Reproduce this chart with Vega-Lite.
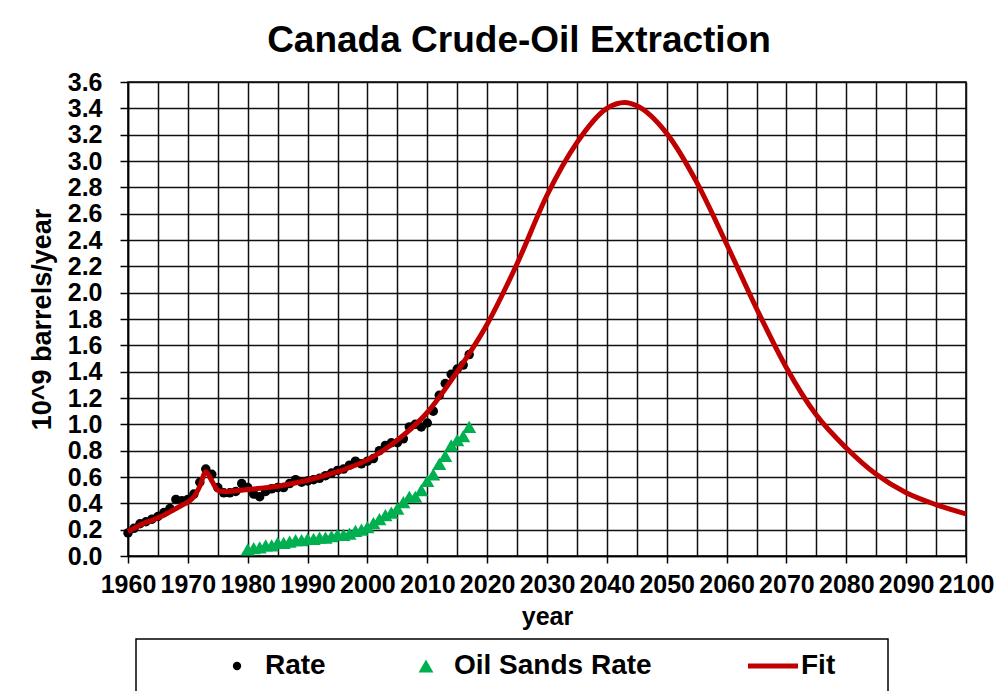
{
  "$schema": "https://vega.github.io/schema/vega-lite/v6.json",
  "width": 838,
  "height": 474,
  "autosize": "none",
  "padding": {"left": 128, "top": 82, "right": 36, "bottom": 135},
  "background": "white",
  "title": {
    "text": "Canada Crude-Oil Extraction",
    "font": "Liberation Sans",
    "fontSize": 37,
    "fontWeight": "bold",
    "color": "black",
    "anchor": "middle",
    "frame": "group",
    "dx": -28,
    "dy": 49,
    "offset": 30,
    "baseline": "alphabetic"
  },
  "datasets": {
    "rate": [
      {"year": 1960, "value": 0.175, "series": "Rate"},
      {"year": 1961, "value": 0.21, "series": "Rate"},
      {"year": 1962, "value": 0.245, "series": "Rate"},
      {"year": 1963, "value": 0.26, "series": "Rate"},
      {"year": 1964, "value": 0.28, "series": "Rate"},
      {"year": 1965, "value": 0.30, "series": "Rate"},
      {"year": 1966, "value": 0.33, "series": "Rate"},
      {"year": 1967, "value": 0.36, "series": "Rate"},
      {"year": 1968, "value": 0.43, "series": "Rate"},
      {"year": 1969, "value": 0.42, "series": "Rate"},
      {"year": 1970, "value": 0.43, "series": "Rate"},
      {"year": 1971, "value": 0.47, "series": "Rate"},
      {"year": 1972, "value": 0.56, "series": "Rate"},
      {"year": 1973, "value": 0.66, "series": "Rate"},
      {"year": 1974, "value": 0.62, "series": "Rate"},
      {"year": 1975, "value": 0.52, "series": "Rate"},
      {"year": 1976, "value": 0.48, "series": "Rate"},
      {"year": 1977, "value": 0.48, "series": "Rate"},
      {"year": 1978, "value": 0.49, "series": "Rate"},
      {"year": 1979, "value": 0.55, "series": "Rate"},
      {"year": 1980, "value": 0.52, "series": "Rate"},
      {"year": 1981, "value": 0.47, "series": "Rate"},
      {"year": 1982, "value": 0.45, "series": "Rate"},
      {"year": 1983, "value": 0.49, "series": "Rate"},
      {"year": 1984, "value": 0.51, "series": "Rate"},
      {"year": 1985, "value": 0.52, "series": "Rate"},
      {"year": 1986, "value": 0.52, "series": "Rate"},
      {"year": 1987, "value": 0.55, "series": "Rate"},
      {"year": 1988, "value": 0.58, "series": "Rate"},
      {"year": 1989, "value": 0.56, "series": "Rate"},
      {"year": 1990, "value": 0.57, "series": "Rate"},
      {"year": 1991, "value": 0.58, "series": "Rate"},
      {"year": 1992, "value": 0.59, "series": "Rate"},
      {"year": 1993, "value": 0.61, "series": "Rate"},
      {"year": 1994, "value": 0.63, "series": "Rate"},
      {"year": 1995, "value": 0.65, "series": "Rate"},
      {"year": 1996, "value": 0.66, "series": "Rate"},
      {"year": 1997, "value": 0.69, "series": "Rate"},
      {"year": 1998, "value": 0.72, "series": "Rate"},
      {"year": 1999, "value": 0.70, "series": "Rate"},
      {"year": 2000, "value": 0.72, "series": "Rate"},
      {"year": 2001, "value": 0.74, "series": "Rate"},
      {"year": 2002, "value": 0.80, "series": "Rate"},
      {"year": 2003, "value": 0.84, "series": "Rate"},
      {"year": 2004, "value": 0.86, "series": "Rate"},
      {"year": 2005, "value": 0.86, "series": "Rate"},
      {"year": 2006, "value": 0.89, "series": "Rate"},
      {"year": 2007, "value": 0.98, "series": "Rate"},
      {"year": 2008, "value": 1.00, "series": "Rate"},
      {"year": 2009, "value": 0.98, "series": "Rate"},
      {"year": 2010, "value": 1.01, "series": "Rate"},
      {"year": 2011, "value": 1.10, "series": "Rate"},
      {"year": 2012, "value": 1.22, "series": "Rate"},
      {"year": 2013, "value": 1.31, "series": "Rate"},
      {"year": 2014, "value": 1.38, "series": "Rate"},
      {"year": 2015, "value": 1.42, "series": "Rate"},
      {"year": 2016, "value": 1.45, "series": "Rate"},
      {"year": 2017, "value": 1.53, "series": "Rate"}
    ],
    "sands": [
      {"year": 1980, "value": 0.05, "series": "Oil Sands Rate"},
      {"year": 1981, "value": 0.06, "series": "Oil Sands Rate"},
      {"year": 1982, "value": 0.065, "series": "Oil Sands Rate"},
      {"year": 1983, "value": 0.08, "series": "Oil Sands Rate"},
      {"year": 1984, "value": 0.08, "series": "Oil Sands Rate"},
      {"year": 1985, "value": 0.10, "series": "Oil Sands Rate"},
      {"year": 1986, "value": 0.10, "series": "Oil Sands Rate"},
      {"year": 1987, "value": 0.11, "series": "Oil Sands Rate"},
      {"year": 1988, "value": 0.12, "series": "Oil Sands Rate"},
      {"year": 1989, "value": 0.12, "series": "Oil Sands Rate"},
      {"year": 1990, "value": 0.13, "series": "Oil Sands Rate"},
      {"year": 1991, "value": 0.13, "series": "Oil Sands Rate"},
      {"year": 1992, "value": 0.14, "series": "Oil Sands Rate"},
      {"year": 1993, "value": 0.14, "series": "Oil Sands Rate"},
      {"year": 1994, "value": 0.15, "series": "Oil Sands Rate"},
      {"year": 1995, "value": 0.16, "series": "Oil Sands Rate"},
      {"year": 1996, "value": 0.16, "series": "Oil Sands Rate"},
      {"year": 1997, "value": 0.17, "series": "Oil Sands Rate"},
      {"year": 1998, "value": 0.19, "series": "Oil Sands Rate"},
      {"year": 1999, "value": 0.20, "series": "Oil Sands Rate"},
      {"year": 2000, "value": 0.22, "series": "Oil Sands Rate"},
      {"year": 2001, "value": 0.25, "series": "Oil Sands Rate"},
      {"year": 2002, "value": 0.28, "series": "Oil Sands Rate"},
      {"year": 2003, "value": 0.31, "series": "Oil Sands Rate"},
      {"year": 2004, "value": 0.33, "series": "Oil Sands Rate"},
      {"year": 2005, "value": 0.36, "series": "Oil Sands Rate"},
      {"year": 2006, "value": 0.41, "series": "Oil Sands Rate"},
      {"year": 2007, "value": 0.45, "series": "Oil Sands Rate"},
      {"year": 2008, "value": 0.45, "series": "Oil Sands Rate"},
      {"year": 2009, "value": 0.50, "series": "Oil Sands Rate"},
      {"year": 2010, "value": 0.57, "series": "Oil Sands Rate"},
      {"year": 2011, "value": 0.62, "series": "Oil Sands Rate"},
      {"year": 2012, "value": 0.70, "series": "Oil Sands Rate"},
      {"year": 2013, "value": 0.76, "series": "Oil Sands Rate"},
      {"year": 2014, "value": 0.84, "series": "Oil Sands Rate"},
      {"year": 2015, "value": 0.88, "series": "Oil Sands Rate"},
      {"year": 2016, "value": 0.91, "series": "Oil Sands Rate"},
      {"year": 2017, "value": 0.98, "series": "Oil Sands Rate"}
    ],
    "fit": [
      {"year": 1960, "value": 0.185, "series": "Fit"},
      {"year": 1961, "value": 0.21, "series": "Fit"},
      {"year": 1962, "value": 0.235, "series": "Fit"},
      {"year": 1963, "value": 0.255, "series": "Fit"},
      {"year": 1964, "value": 0.27, "series": "Fit"},
      {"year": 1965, "value": 0.29, "series": "Fit"},
      {"year": 1966, "value": 0.31, "series": "Fit"},
      {"year": 1967, "value": 0.335, "series": "Fit"},
      {"year": 1968, "value": 0.36, "series": "Fit"},
      {"year": 1969, "value": 0.385, "series": "Fit"},
      {"year": 1970, "value": 0.41, "series": "Fit"},
      {"year": 1971, "value": 0.45, "series": "Fit"},
      {"year": 1972, "value": 0.53, "series": "Fit"},
      {"year": 1973, "value": 0.64, "series": "Fit"},
      {"year": 1974, "value": 0.57, "series": "Fit"},
      {"year": 1975, "value": 0.50, "series": "Fit"},
      {"year": 1976, "value": 0.49, "series": "Fit"},
      {"year": 1977, "value": 0.49, "series": "Fit"},
      {"year": 1978, "value": 0.495, "series": "Fit"},
      {"year": 1979, "value": 0.50, "series": "Fit"},
      {"year": 1980, "value": 0.505, "series": "Fit"},
      {"year": 1985, "value": 0.53, "series": "Fit"},
      {"year": 1990, "value": 0.575, "series": "Fit"},
      {"year": 1995, "value": 0.64, "series": "Fit"},
      {"year": 2000, "value": 0.73, "series": "Fit"},
      {"year": 2005, "value": 0.88, "series": "Fit"},
      {"year": 2010, "value": 1.09, "series": "Fit"},
      {"year": 2015, "value": 1.40, "series": "Fit"},
      {"year": 2020, "value": 1.76, "series": "Fit"},
      {"year": 2025, "value": 2.22, "series": "Fit"},
      {"year": 2030, "value": 2.74, "series": "Fit"},
      {"year": 2035, "value": 3.14, "series": "Fit"},
      {"year": 2040, "value": 3.40, "series": "Fit"},
      {"year": 2043, "value": 3.445, "series": "Fit"},
      {"year": 2045, "value": 3.42, "series": "Fit"},
      {"year": 2050, "value": 3.21, "series": "Fit"},
      {"year": 2055, "value": 2.84, "series": "Fit"},
      {"year": 2060, "value": 2.37, "series": "Fit"},
      {"year": 2065, "value": 1.88, "series": "Fit"},
      {"year": 2070, "value": 1.43, "series": "Fit"},
      {"year": 2075, "value": 1.07, "series": "Fit"},
      {"year": 2080, "value": 0.82, "series": "Fit"},
      {"year": 2085, "value": 0.62, "series": "Fit"},
      {"year": 2090, "value": 0.48, "series": "Fit"},
      {"year": 2095, "value": 0.39, "series": "Fit"},
      {"year": 2100, "value": 0.32, "series": "Fit"}
    ]
  },
  "encoding": {
    "x": {
      "field": "year",
      "type": "quantitative",
      "title": "year",
      "scale": {"domain": [1960, 2100], "nice": false, "zero": false},
      "axis": {
        "values": [1960, 1965, 1970, 1975, 1980, 1985, 1990, 1995, 2000, 2005, 2010, 2015, 2020, 2025, 2030, 2035, 2040, 2045, 2050, 2055, 2060, 2065, 2070, 2075, 2080, 2085, 2090, 2095, 2100],
        "format": "d",
        "labelExpr": "datum.value % 10 === 0 ? datum.label : ''",
        "grid": true,
        "gridColor": "#111111",
        "gridWidth": 1.5,
        "gridOpacity": 1,
        "tickSize": 7,
        "tickColor": "#000000",
        "tickWidth": 1.5,
        "tickOpacity": {"condition": {"test": "datum.value % 10 !== 0", "value": 0}, "value": 1},
        "domainColor": "#000000",
        "domainWidth": 1.5,
        "labelFont": "Liberation Sans",
        "labelFontWeight": "bold",
        "labelFontSize": 25,
        "labelColor": "#000000",
        "labelPadding": 9,
        "labelFlush": false,
        "labelOverlap": false,
        "labelBound": false,
        "titleFont": "Liberation Sans",
        "titleFontWeight": "bold",
        "titleFontSize": 25,
        "titleColor": "#000000",
        "titlePadding": 7
      }
    },
    "y": {
      "field": "value",
      "type": "quantitative",
      "title": "10^9 barrels/year",
      "scale": {"domain": [0, 3.6], "nice": false},
      "axis": {
        "values": [0, 0.2, 0.4, 0.6, 0.8, 1.0, 1.2, 1.4, 1.6, 1.8, 2.0, 2.2, 2.4, 2.6, 2.8, 3.0, 3.2, 3.4, 3.6],
        "format": ".1f",
        "grid": true,
        "gridColor": "#111111",
        "gridWidth": 1.5,
        "gridOpacity": 1,
        "tickSize": 8,
        "tickColor": "#000000",
        "tickWidth": 1.5,
        "domainColor": "#000000",
        "domainWidth": 1.5,
        "labelFont": "Liberation Sans",
        "labelFontWeight": "bold",
        "labelFontSize": 25,
        "labelColor": "#000000",
        "labelPadding": 18,
        "labelFlush": false,
        "labelOverlap": false,
        "labelBound": false,
        "titleFont": "Liberation Sans",
        "titleFontWeight": "bold",
        "titleFontSize": 27,
        "titleColor": "#000000",
        "titlePadding": 11
      }
    },
    "color": {
      "field": "series",
      "type": "nominal",
      "scale": {"domain": ["Rate", "Oil Sands Rate", "Fit"], "range": ["#000000", "#00b050", "#c00000"]},
      "legend": {
        "orient": "none",
        "legendX": 8,
        "legendY": 557,
        "direction": "horizontal",
        "title": "\u00a0",
        "titleOrient": "left",
        "titlePadding": 74,
        "titleFontSize": 28,
        "titleFont": "Liberation Sans",
        "strokeColor": "#000000",
        "fillColor": "#ffffff",
        "padding": 13,
        "labelFont": "Liberation Sans",
        "labelFontWeight": "bold",
        "labelFontSize": 28,
        "labelColor": "#000000",
        "labelOffset": 14,
        "labelLimit": 600,
        "columnPadding": 86,
        "symbolSize": 100,
        "labelExpr": "datum.label === 'Fit' ? 'Fit\u00a0\u00a0\u00a0\u00a0\u00a0\u200b' : datum.label",
        "encode": {
          "legend": {"update": {"strokeWidth": {"value": 1.5}}},
          "symbols": {
            "update": {
              "shape": {"signal": "datum.value === 'Fit' ? 'stroke' : datum.value === 'Rate' ? 'circle' : 'triangle-up'"},
              "size": {"signal": "datum.value === 'Fit' ? 2500 : datum.value === 'Rate' ? 70 : 220"},
              "strokeWidth": {"signal": "datum.value === 'Fit' ? 5 : 0"},
              "fill": {"signal": "datum.value === 'Fit' ? 'transparent' : scale('color', datum.value)"},
              "stroke": {"signal": "scale('color', datum.value)"},
              "opacity": {"value": 1},
              "fillOpacity": {"value": 1},
              "strokeOpacity": {"value": 1}
            }
          }
        }
      }
    }
  },
  "layer": [
    {
      "data": {"name": "rate"},
      "mark": {"type": "point", "filled": true, "shape": "circle", "size": 90, "opacity": 1}
    },
    {
      "data": {"name": "sands"},
      "mark": {"type": "point", "filled": true, "shape": "triangle-up", "size": 200, "opacity": 1}
    },
    {
      "data": {"name": "fit"},
      "mark": {"type": "line", "strokeWidth": 5, "interpolate": "monotone"}
    }
  ],
  "config": {
    "view": {"stroke": "#000000", "strokeWidth": 1.5},
    "font": "Liberation Sans"
  }
}
